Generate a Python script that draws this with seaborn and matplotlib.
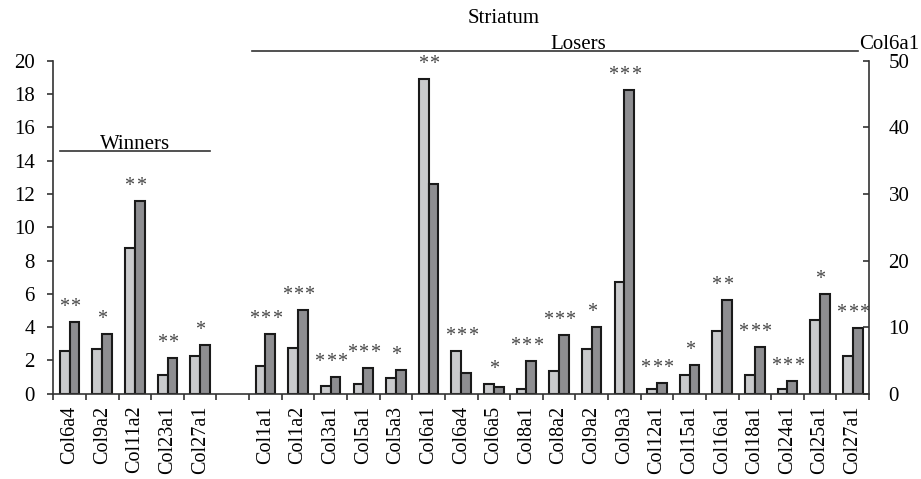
import matplotlib
matplotlib.use("Agg")
import matplotlib.pyplot as plt
import seaborn as sns
import pandas as pd
from matplotlib.ticker import FixedLocator, MultipleLocator

# Data (fold change, two conditions per gene)
winners = ["Col6a4", "Col9a2", "Col11a2", "Col23a1", "Col27a1"]
winners_a = [2.56, 2.66, 8.74, 1.14, 2.26]
winners_b = [4.30, 3.58, 11.60, 2.12, 2.94]
winners_sig = ["**", "*", "**", "**", "*"]

losers = ["Col1a1", "Col1a2", "Col3a1", "Col5a1", "Col5a3", "Col6a1", "Col6a4",
          "Col6a5", "Col8a1", "Col8a2", "Col9a2", "Col9a3", "Col12a1", "Col15a1",
          "Col16a1", "Col18a1", "Col24a1", "Col25a1", "Col27a1"]
losers_a = [1.66, 2.72, 0.46, 0.60, 0.92, 47.3, 2.56, 0.60, 0.30, 1.38, 2.68,
            6.68, 0.28, 1.14, 3.74, 1.14, 0.28, 4.44, 2.28]
losers_b = [3.56, 5.02, 1.00, 1.54, 1.42, 31.55, 1.26, 0.38, 1.98, 3.52, 4.02,
            18.22, 0.62, 1.74, 5.60, 2.78, 0.76, 5.98, 3.92]
losers_sig = ["***", "***", "***", "***", "*", "**", "***", "*", "***", "***", "*",
              "***", "***", "*", "**", "***", "***", "*", "***"]

right_gene = "Col6a1"   # plotted against the right axis (0-50)
scale = 2.5             # right axis units per left axis unit

rows = []
for grp, genes, a, b, sig in [("W", winners, winners_a, winners_b, winners_sig),
                              ("L", losers, losers_a, losers_b, losers_sig)]:
    for g, va, vb, s in zip(genes, a, b, sig):
        key = grp + ":" + g
        rows.append(dict(key=key, gene=g, cond="c1", value=va, sig=s))
        rows.append(dict(key=key, gene=g, cond="c2", value=vb, sig=s))
df = pd.DataFrame(rows)

order = ["W:" + g for g in winners] + ["gap"] + ["L:" + g for g in losers]
labels = winners + [""] + losers
palette = {"c1": "#c9cacc", "c2": "#8d8e92"}

plt.rcParams["font.family"] = ["Liberation Serif", "DejaVu Serif"]
fs = 15
fig = plt.figure(figsize=(9.21, 4.79), dpi=100)
ax = fig.add_axes([0.0579, 0.178, 0.8857, 0.6953])
ax2 = ax.twinx()

left_df = df[df.gene.ne(right_gene) | df.key.str.startswith("W")]
right_df = df[df.key.eq("L:" + right_gene)]

bar_kw = dict(x="key", y="value", hue="cond", order=order, hue_order=["c1", "c2"],
              palette=palette, width=0.6, edgecolor="#1a1a1a", linewidth=1.5,
              errorbar=None, legend=False)
sns.barplot(data=left_df, ax=ax, **bar_kw)
sns.barplot(data=right_df, ax=ax2, **bar_kw)

# significance stars, one text per star so groups stay apart
star_step = 0.35
for i, key in enumerate(order):
    sub = df[df.key == key]
    if sub.empty:
        continue
    top = sub.value.max()
    if key == "L:" + right_gene:
        top = top / scale
    n = len(sub.sig.iloc[0])
    for k in range(n):
        ax.text(i + (k - (n - 1) / 2) * star_step, top + 0.6, "*", ha="center",
                va="baseline", fontsize=14.5, color="#444444", clip_on=False)

for a in (ax, ax2):
    a.set_xlim(-0.5, len(order) - 0.5)
    a.set_xlabel("")
    a.set_ylabel("")
    a.spines["top"].set_visible(False)

ax.set_ylim(0, 20)
ax.yaxis.set_major_locator(MultipleLocator(2))
ax2.set_ylim(0, 50)
ax2.yaxis.set_major_locator(MultipleLocator(10))

ax.spines["right"].set_visible(False)
ax2.spines["left"].set_visible(False)
ax2.spines["bottom"].set_visible(False)
for s in ("left", "bottom"):
    ax.spines[s].set_color("#333333")
    ax.spines[s].set_linewidth(1.2)
ax2.spines["right"].set_color("#333333")
ax2.spines["right"].set_linewidth(1.2)

ax.set_xticks(range(len(order)))
ax.set_xticklabels(labels, rotation=90, fontsize=14.5)
ax.tick_params(axis="x", which="major", length=0, pad=8.5)
ax.xaxis.set_minor_locator(FixedLocator([i - 0.5 for i in range(len(order) + 1)]))
ax.tick_params(axis="x", which="minor", length=4.3, width=1.2, color="#333333")
ax.tick_params(axis="y", labelsize=fs, length=4.3, width=1.2, color="#333333", pad=9)
ax2.tick_params(axis="y", direction="in", labelsize=fs, length=4.3, width=1.2,
                color="#333333", pad=14)
ax2.tick_params(axis="x", which="both", length=0, labelbottom=False)

# group headers
line_kw = dict(color="#333333", linewidth=1.2, clip_on=False)
ax.plot([-0.29, 4.3], [14.57, 14.57], **line_kw)
ax.text(2.0, 14.95, "Winners", ha="center", va="center", fontsize=fs)
ax.plot([5.58, 24.17], [20.58, 20.58], **line_kw)
ax.text(15.6, 21.0, "Losers", ha="center", va="center", fontsize=fs)
ax.text(24.2, 21.0, right_gene, ha="left", va="center", fontsize=fs)
ax.text(13.3, 22.52, "Striatum", ha="center", va="center", fontsize=fs)

fig.savefig("out.png", dpi=100)
